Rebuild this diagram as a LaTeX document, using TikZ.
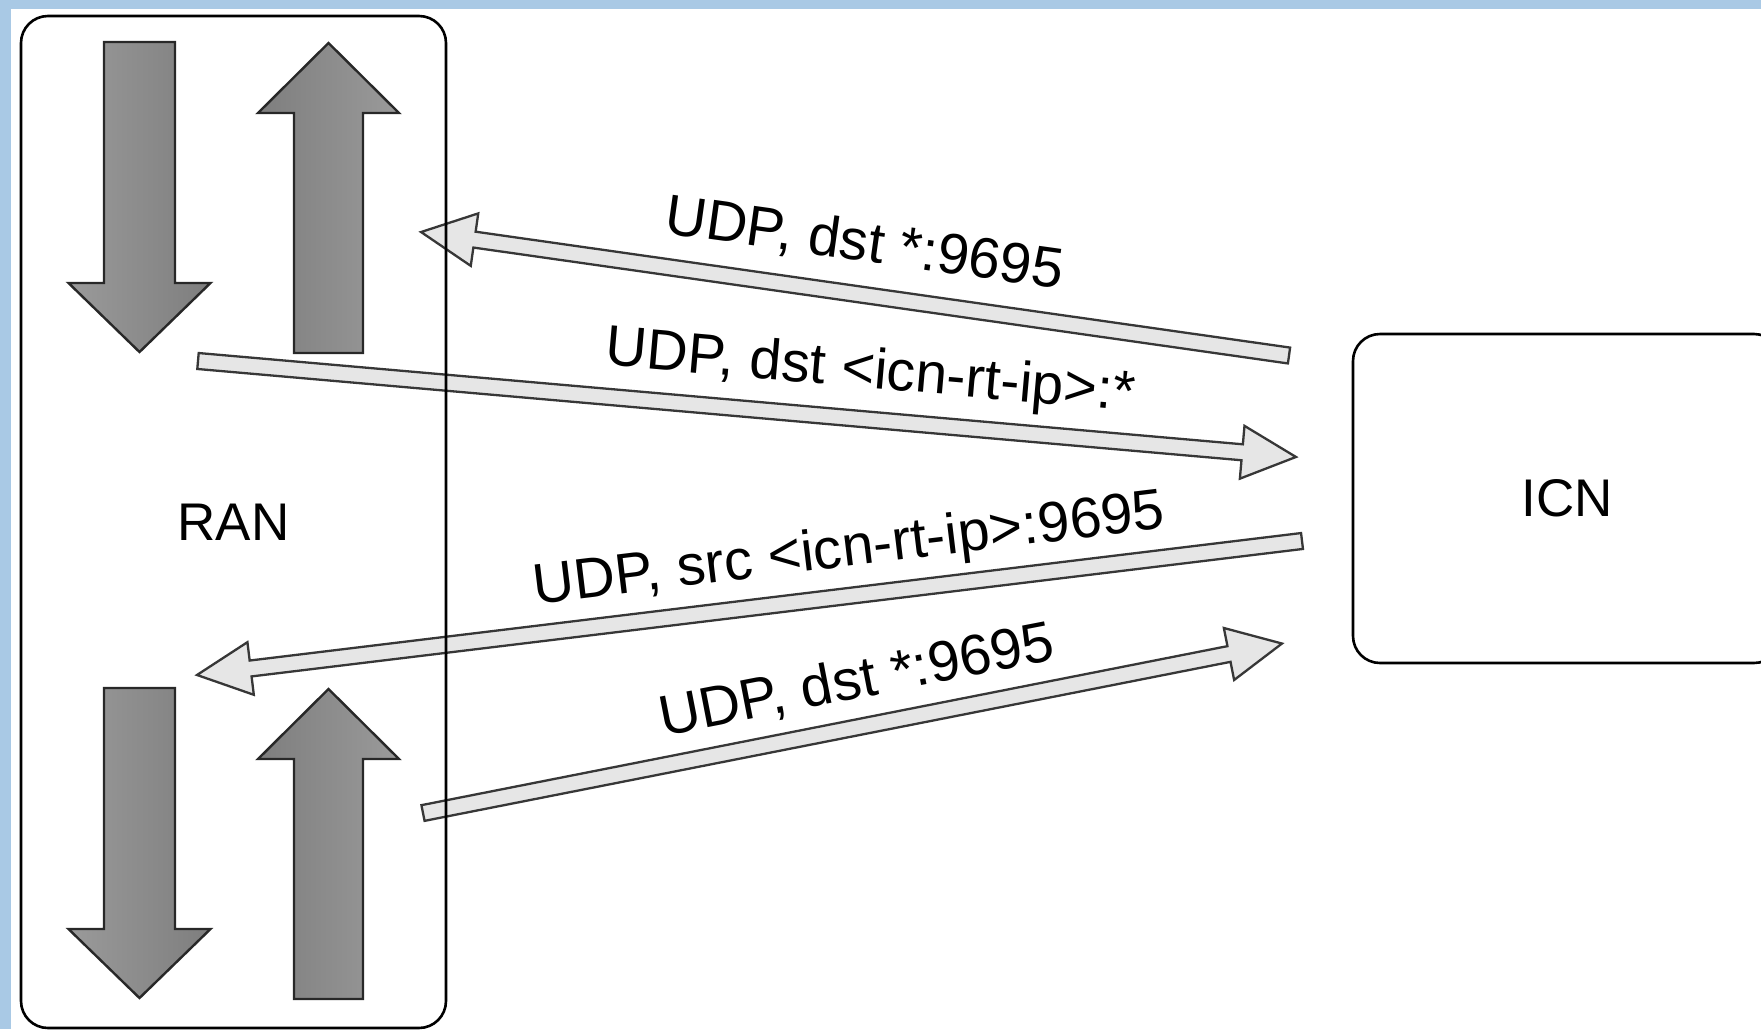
\documentclass[tikz,border=0pt]{standalone}
\usepackage{fontspec}
\setmainfont{Liberation Sans}
\usetikzlibrary{calc}

\definecolor{framebg}{RGB}{169,201,229}
\definecolor{flowfill}{RGB}{230,230,230}
\definecolor{flowline}{RGB}{55,55,55}
\definecolor{blockline}{RGB}{40,40,40}
\definecolor{blockhi}{RGB}{154,154,154}
\definecolor{blocklo}{RGB}{126,126,126}

% wide hollow arrow from one named point to another
\newcommand\flowarrow[2]{%
  \path (#1); \pgfgetlastxy{\fax}{\fay}%
  \path (#2); \pgfgetlastxy{\fbx}{\fby}%
  \pgfmathsetmacro\flowang{atan2(\fby-\fay,\fbx-\fax)}%
  \pgfmathsetmacro\flowlen{veclen(\fbx-\fax,\fby-\fay)}%
  \begin{scope}[shift={(#1)}, rotate=\flowang]
    \path[flowarrow] (0,-8) -- (\flowlen-54,-8) -- (\flowlen-54,-26.5)
      -- (\flowlen,0) -- (\flowlen-54,26.5) -- (\flowlen-54,8) -- (0,8) -- cycle;
  \end{scope}}

\tikzset{
  flowarrow/.style={draw=flowline, fill=flowfill, line width=2.3pt, line join=miter},
  blockarrow/.style={draw=blockline, line width=2.4pt, line join=miter},
  flowlabel/.style={inner sep=0pt, font=\fontsize{57}{62}\selectfont},
  boxnode/.style={draw=black, line width=2.6pt, rounded corners=27pt, inner sep=0pt,
    font=\fontsize{53}{60}\selectfont},
  pics/downblock/.style={code={
    \path[blockarrow, left color=blockhi, right color=blocklo]
      (-35.5,0) -- (35.5,0) -- (35.5,241) -- (71,241) -- (0,310)
      -- (-71,241) -- (-35.5,241) -- cycle;
  }},
  pics/upblock/.style={code={
    \path[blockarrow, left color=blocklo, right color=blockhi]
      (0,0) -- (70.5,70) -- (34.5,70) -- (34.5,310) -- (-34.5,310)
      -- (-34.5,70) -- (-70.5,70) -- cycle;
  }},
}

\begin{document}
\begin{tikzpicture}[x=1pt, y=-1pt]
  \useasboundingbox (0,0) rectangle (1761,1029);
  \clip (0,0) rectangle (1761,1029);

  % page frame
  \fill[framebg] (0,0) rectangle (1761,1029);
  \fill[white] (11,9) rectangle (1761,1029);

  % traffic direction blocks inside the RAN
  \pic at (139.5,42) {downblock};
  \pic at (328.5,43) {upblock};
  \pic at (139.5,688) {downblock};
  \pic at (328.5,689) {upblock};

  % connector end points
  \coordinate (a1s) at (1289,355.5);
  \coordinate (a1e) at (421,232);
  \coordinate (a2s) at (198,361);
  \coordinate (a2e) at (1296,457);
  \coordinate (a3s) at (1302,541);
  \coordinate (a3e) at (197,675);
  \coordinate (a4s) at (423,813);
  \coordinate (a4e) at (1282,643.5);

  \flowarrow{a1s}{a1e}
  \flowarrow{a2s}{a2e}
  \flowarrow{a3s}{a3e}
  \flowarrow{a4s}{a4e}

  % connector labels
  \node[flowlabel, rotate=-8, anchor=base] (l1) at (862,261) {UDP, dst *:9695};
  \node[flowlabel, rotate=-5, anchor=base] (l2) at (869,388) {UDP, dst <icn-rt-ip>:*};
  \node[flowlabel, rotate=6.9, anchor=base] (l3) at (851,566) {UDP, src <icn-rt-ip>:9695};
  \node[flowlabel, rotate=11, anchor=base] (l4) at (860,698) {UDP, dst *:9695};

  % the two domains
  \node[boxnode, minimum width=425pt, minimum height=1012pt] (ran) at (233.5,522) {RAN};
  \node[boxnode, minimum width=428pt, minimum height=329pt] (icn) at (1567,498.5) {ICN};
\end{tikzpicture}
\end{document}
